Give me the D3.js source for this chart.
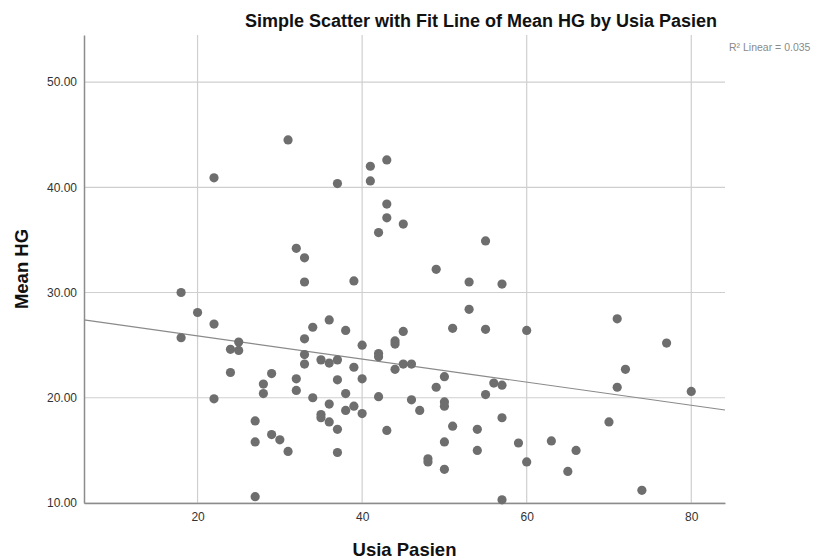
<!doctype html>
<html>
  <head>
    <meta charset="utf-8">
    <title>Mean HG by Usia Pasien</title>
    <style>
      * { margin: 0; padding: 0; }
      body { background: #fff; font-family: "Liberation Sans", Arial, sans-serif; }
      #chart { width: 827px; height: 559px; }
    </style>
  </head>
  <body>
    <div id="chart"></div>
    <script src="https://d3js.org/d3.v7.min.js"></script>
    <script>
    // data: age (Usia Pasien) and mean HG per patient
    var usia = [18, 18, 20, 22, 22, 22, 24, 24, 25, 25,
                27, 27, 27, 28, 28, 29, 29, 30, 31, 31,
                32, 32, 32, 33, 33, 33, 33, 33, 34, 34,
                35, 35, 35, 36, 36, 36, 36, 37, 37, 37,
                37, 37, 38, 38, 38, 39, 39, 39, 40, 40,
                40, 41, 41, 42, 42, 42, 42, 43, 43, 43,
                43, 44, 44, 44, 45, 45, 45, 46, 46, 47,
                48, 48, 49, 49, 50, 50, 50, 50, 50, 51,
                51, 53, 53, 54, 54, 55, 55, 55, 56, 57,
                57, 57, 57, 59, 60, 60, 63, 65, 66, 70,
                71, 71, 72, 74, 77, 80]
    var meanHG = [30.0, 25.7, 28.1, 40.9, 27.0, 19.9, 24.6, 22.4, 25.3, 24.5,
                  17.8, 15.8, 10.6, 21.3, 20.4, 22.3, 16.5, 16.0, 44.5, 14.9,
                  34.2, 21.8, 20.7, 33.3, 31.0, 25.6, 24.1, 23.2, 26.7, 20.0,
                  23.6, 18.4, 18.1, 27.4, 23.3, 19.4, 17.7, 40.35, 23.6, 21.7,
                  17.0, 14.8, 26.4, 20.4, 18.8, 31.1, 22.9, 19.2, 25.0, 21.8,
                  18.5, 42.0, 40.6, 35.7, 24.2, 23.9, 20.1, 42.6, 38.4, 37.1,
                  16.9, 25.4, 25.1, 22.7, 36.5, 26.3, 23.2, 23.2, 19.8, 18.8,
                  14.2, 13.9, 32.2, 21.0, 22.0, 19.6, 19.2, 15.8, 13.2, 26.6,
                  17.3, 31.0, 28.4, 17.0, 15.0, 34.9, 26.5, 20.3, 21.4, 30.8,
                  21.2, 18.1, 10.3, 15.7, 26.4, 13.9, 15.9, 13.0, 15.0, 17.7,
                  27.5, 21.0, 22.7, 11.2, 25.2, 20.6]

    var xTicks = [20, 40, 60, 80]
    var yTicks = [10, 20, 30, 40, 50]
    var titleText = 'Simple Scatter with Fit Line of Mean HG by Usia Pasien'
    var r2Text = 'R\u00b2 Linear = 0.035'

    var W = 827, H = 559
    // plot box (note: "top" is a reserved window prop, so prefix these)
    var pLeft = 84, pRight = 725, pTop = 35, pBottom = 503

    var svg = d3.select('#chart').append('svg')
      .attr('width', W).attr('height', H)

    var x = d3.scaleLinear().domain([6.2, 84.1]).range([pLeft, pRight])
    var y = d3.scaleLinear().domain([10, 54.47]).range([pBottom, pTop])

    var points = usia.map(function(u, i){ return {x: u, y: meanHG[i]} })

    // gridlines
    svg.append('g').selectAll('line').data(xTicks).enter().append('line')
      .attr('x1', function(d){ return x(d) }).attr('x2', function(d){ return x(d) })
      .attr('y1', pTop).attr('y2', pBottom)
      .attr('stroke', '#cfcfcf').attr('stroke-width', 1.2)
    svg.append('g').selectAll('line').data(yTicks).enter().append('line')
      .attr('x1', pLeft).attr('x2', pRight)
      .attr('y1', function(d){ return y(d) }).attr('y2', function(d){ return y(d) })
      .attr('stroke', '#cfcfcf').attr('stroke-width', 1.2)

    // axes (no tick marks, just labels)
    var xAxis = svg.append('g').attr('transform', 'translate(0,' + pBottom + ')')
      .call(d3.axisBottom(x).tickValues(xTicks).tickSize(0).tickPadding(9))
    var yAxis = svg.append('g').attr('transform', 'translate(' + pLeft + ',0)')
      .call(d3.axisLeft(y).tickValues(yTicks).tickSize(0).tickPadding(7).tickFormat(d3.format('.2f')))
    ;[xAxis, yAxis].forEach(function(a){
      a.select('.domain').attr('stroke', '#8c8c8c').attr('stroke-width', 1.5)
      a.selectAll('text').attr('fill', '#333').style('font-size', '12px')
        .style('font-family', '"Liberation Sans", Arial, sans-serif')
    })

    // least squares fit line
    var mx = d3.mean(usia), my = d3.mean(meanHG)
    var sxy = d3.sum(points, function(p){ return (p.x - mx) * (p.y - my) })
    var sxx = d3.sum(points, function(p){ return (p.x - mx) * (p.x - mx) })
    var slope = sxy / sxx, icpt = my - slope * mx
    var xd = x.domain()
    svg.append('line')
      .attr('x1', x(xd[0])).attr('y1', y(icpt + slope * xd[0]))
      .attr('x2', x(xd[1])).attr('y2', y(icpt + slope * xd[1]))
      .attr('stroke', '#8a8a8a').attr('stroke-width', 1.2)

    // points
    svg.append('g').selectAll('circle').data(points).enter().append('circle')
      .attr('cx', function(d){ return x(d.x) })
      .attr('cy', function(d){ return y(d.y) })
      .attr('r', 4.6)
      .attr('fill', '#6e6e6e')

    // texts
    svg.append('text').attr('x', 481).attr('y', 27)
      .attr('text-anchor', 'middle')
      .style('font-size', '18px').style('font-weight', 'bold').attr('fill', '#111')
      .text(titleText)
    svg.append('text').attr('x', 729).attr('y', 51)
      .style('font-size', '10.5px').attr('fill', '#8a8a8a')
      .text(r2Text)
    svg.append('text').attr('x', (pLeft + pRight) / 2).attr('y', 556)
      .attr('text-anchor', 'middle')
      .style('font-size', '18.5px').style('font-weight', 'bold').attr('fill', '#111')
      .text('Usia Pasien')
    svg.append('text')
      .attr('transform', 'translate(28,' + ((pTop + pBottom) / 2) + ') rotate(-90)')
      .attr('text-anchor', 'middle')
      .style('font-size', '18.5px').style('font-weight', 'bold').attr('fill', '#111')
      .text('Mean HG')
    </script>
  </body>
</html>
